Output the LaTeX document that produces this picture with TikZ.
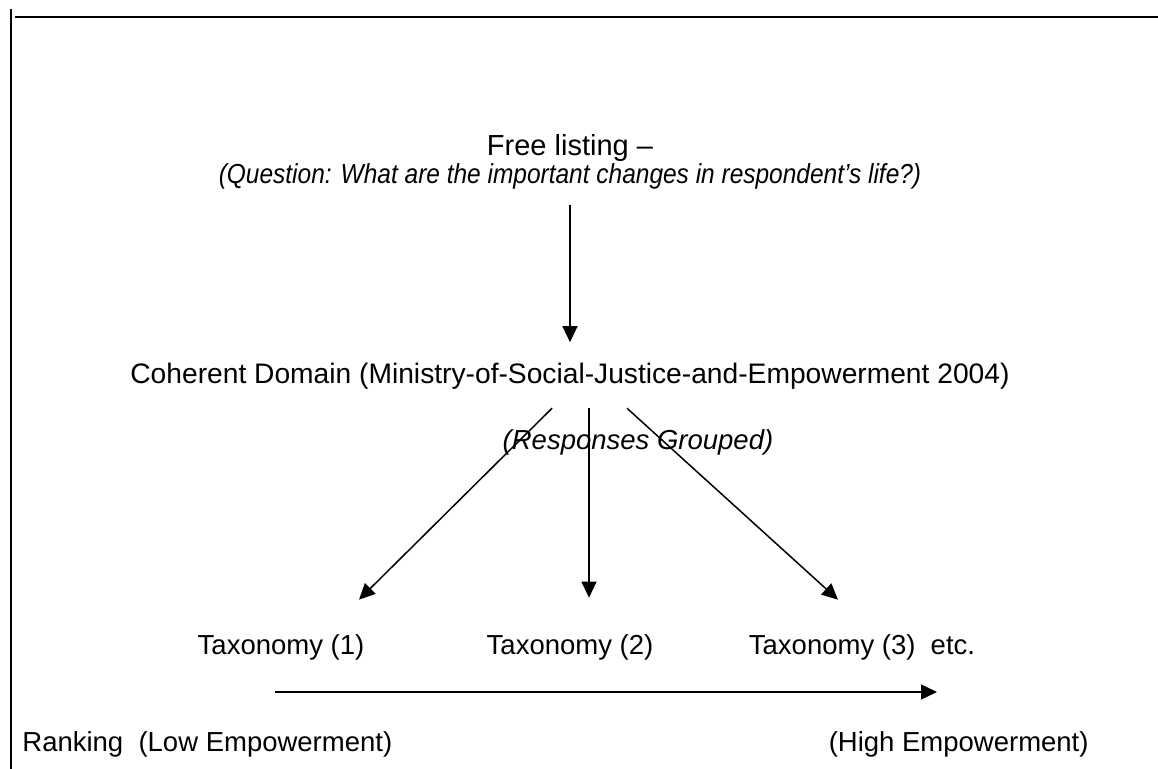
\documentclass[tikz,border=0pt]{standalone}
\usepackage{fontspec}
\setmainfont{Liberation Sans}
\usetikzlibrary{arrows.meta}
\begin{document}
\begin{tikzpicture}[x=0.5pt,y=-0.5pt,
  every node/.style={anchor=base,inner sep=0pt,font=\fontsize{13.75}{16}\selectfont},
  arr/.style={-{Triangle[length=8pt,width=7.5pt]},line width=0.75pt}]
  \useasboundingbox (0,0) rectangle (1158,769);
  \draw[line width=1.1pt] (11,9) -- (11,769);
  \draw[line width=1.1pt] (15,17) -- (1158,17);
  \node[font=\fontsize{14.5}{16}\selectfont] (free) at (570,156) {Free listing –};
  \node[xscale=0.89,transform shape] (question) at (570,184) {\itshape (Question: What are the important changes in respondent’s life?)};
  \node[font=\fontsize{14.1}{16}\selectfont] (domain) at (570,384) {Coherent Domain (Ministry-of-Social-Justice-and-Empowerment 2004)};
  \node (grouped) at (638,450) {\itshape (Responses Grouped)};
  \node (tax1) at (281,655) {Taxonomy (1)};
  \node (tax2) at (570,655) {Taxonomy (2)};
  \node (tax3) at (862,655) {Taxonomy (3)\ \ etc.};
  \node[anchor=base west] (low) at (22,752) {Ranking\ \ (Low Empowerment)};
  \node[anchor=base east] (high) at (1089,752) {(High Empowerment)};
  \coordinate (rankfrom) at (275,692);
  \coordinate (rankto) at (937,692);
  \draw[arr] ([yshift=-7.5pt]question.south) -- ([yshift=10.5pt]domain.north);
  \draw[arr] ([xshift=-9pt,yshift=-9pt]domain.south) -- ([xshift=39pt,yshift=17.5pt]tax1.north);
  \draw[arr] ([xshift=9.5pt,yshift=-9pt]domain.south) -- ([xshift=9.5pt,yshift=18.5pt]tax2.north);
  \draw[arr] ([xshift=28.5pt,yshift=-9pt]domain.south) -- ([xshift=-12pt,yshift=17.5pt]tax3.north);
  \draw[arr] (rankfrom) -- (rankto);
\end{tikzpicture}
\end{document}
